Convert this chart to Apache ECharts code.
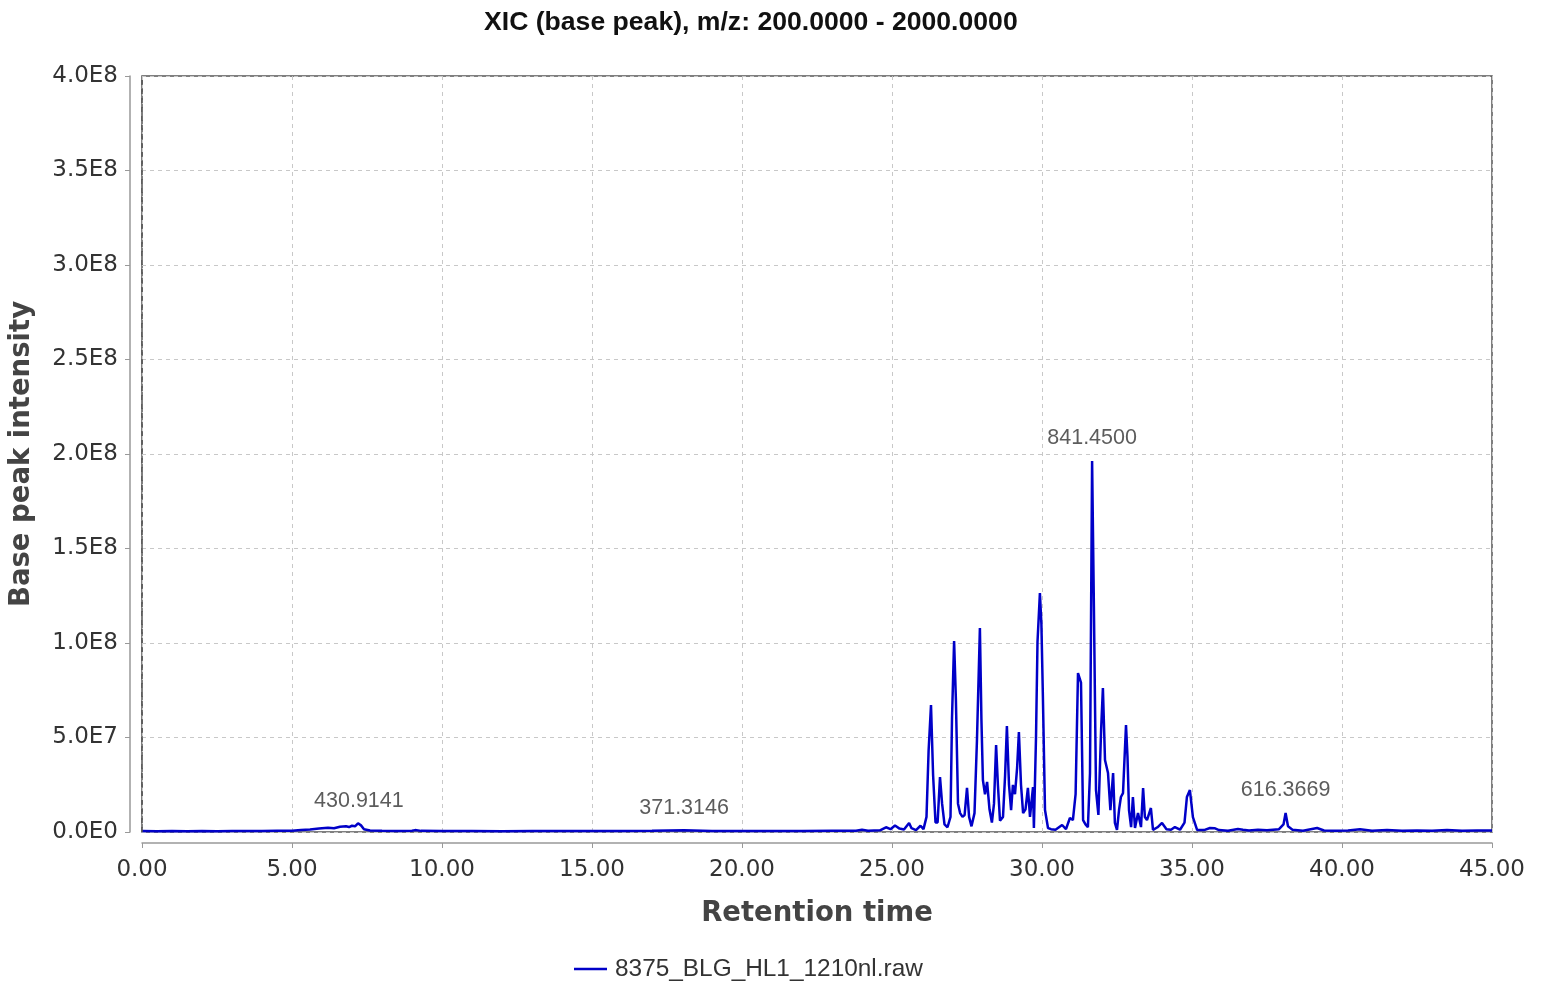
<!DOCTYPE html>
<html>
<head>
<meta charset="utf-8">
<title>XIC (base peak)</title>
<script src="https://cdn.jsdelivr.net/npm/echarts@6/dist/echarts.min.js"></script>
<style>
  html, body { margin: 0; padding: 0; background: #fff; }
  #chart { width: 1545px; height: 983px; }
</style>
</head>
<body>
<div id="chart"></div>
<script>
// retention time (min) and base peak intensity (x 1E6)
var retentionTime = [
  0.00, 0.50, 1.00, 1.50, 2.00, 2.50, 3.00, 3.50, 4.00, 4.50,
  5.00, 5.30, 5.60, 5.90, 6.20, 6.40, 6.60, 6.80, 6.90, 7.00,
  7.10, 7.20, 7.30, 7.40, 7.60, 8.00, 8.50, 9.00, 9.10, 9.30,
  10.0, 11.0, 12.0, 13.0, 14.0, 15.0, 16.0, 17.0, 18.07, 19.0,
  20.0, 21.0, 22.0, 23.0, 23.8, 24.0, 24.2, 24.6, 24.8, 24.95,
  25.1, 25.25, 25.4, 25.57, 25.65, 25.8, 25.95, 26.05, 26.15, 26.22,
  26.3, 26.37, 26.45, 26.52, 26.6, 26.67, 26.75, 26.85, 26.95, 27.0,
  27.07, 27.13, 27.2, 27.27, 27.35, 27.42, 27.5, 27.57, 27.65, 27.75,
  27.83, 27.93, 27.98, 28.03, 28.1, 28.17, 28.25, 28.33, 28.4, 28.47,
  28.53, 28.6, 28.7, 28.77, 28.83, 28.9, 28.97, 29.03, 29.1, 29.17,
  29.23, 29.3, 29.37, 29.45, 29.53, 29.6, 29.7, 29.73, 29.8, 29.85,
  29.93, 29.98, 30.03, 30.1, 30.2, 30.3, 30.45, 30.67, 30.8, 30.93,
  31.03, 31.12, 31.2, 31.3, 31.37, 31.45, 31.53, 31.6, 31.67, 31.73,
  31.8, 31.88, 31.97, 32.03, 32.1, 32.2, 32.28, 32.37, 32.43, 32.5,
  32.57, 32.63, 32.7, 32.8, 32.85, 32.9, 32.97, 33.03, 33.1, 33.2,
  33.3, 33.37, 33.43, 33.5, 33.63, 33.7, 33.85, 34.0, 34.15, 34.3,
  34.43, 34.6, 34.75, 34.83, 34.93, 35.03, 35.17, 35.4, 35.6, 35.75,
  35.9, 36.2, 36.53, 36.7, 36.9, 37.2, 37.5, 37.9, 38.05, 38.12,
  38.2, 38.35, 38.7, 39.17, 39.4, 39.8, 40.2, 40.6, 41.0, 41.5,
  42.0, 42.5, 43.0, 43.5, 44.0, 44.5, 45.0
];
var intensityE6 = [
  0.5, 0.4, 0.5, 0.4, 0.5, 0.4, 0.5, 0.5, 0.5, 0.6,
  0.7, 1.0, 1.3, 1.8, 2.3, 2.0, 2.8, 3.0, 2.6, 3.3,
  3.0, 4.6, 3.5, 1.5, 0.8, 0.6, 0.5, 0.7, 1.0, 0.6,
  0.5, 0.5, 0.4, 0.5, 0.5, 0.5, 0.5, 0.6, 0.9, 0.5,
  0.5, 0.5, 0.5, 0.6, 0.7, 1.2, 0.7, 0.9, 2.5, 1.5,
  3.4, 1.8, 1.3, 4.8, 2.0, 1.0, 3.3, 1.5, 8.0, 43.0,
  67.2, 30.0, 5.0, 5.0, 29.0, 15.0, 4.0, 2.5, 8.0, 60.0,
  101.0, 70.0, 15.0, 10.0, 8.0, 9.0, 23.3, 8.0, 3.0, 10.0,
  47.6, 107.9, 60.0, 27.5, 20.0, 26.5, 12.0, 5.0, 15.0, 46.0,
  25.0, 6.0, 8.0, 30.0, 56.1, 25.0, 11.6, 24.9, 20.0, 33.9,
  52.9, 25.0, 10.0, 12.0, 23.3, 8.0, 23.8, 2.1, 50.0, 100.5,
  126.4, 110.0, 71.4, 11.6, 2.1, 1.5, 1.2, 3.7, 1.5, 7.4,
  6.3, 20.0, 84.1, 79.0, 6.3, 4.0, 2.6, 31.2, 196.3, 119.0,
  22.2, 9.0, 54.0, 76.2, 38.1, 31.2, 11.6, 31.2, 4.8, 1.1,
  12.0, 18.5, 20.6, 56.6, 39.7, 11.6, 2.6, 18.5, 2.1, 10.1,
  2.6, 23.3, 7.9, 6.3, 12.7, 1.1, 2.5, 4.8, 1.5, 1.2,
  2.6, 1.2, 5.0, 18.5, 22.2, 7.9, 1.1, 1.0, 2.1, 2.0,
  1.0, 0.7, 1.6, 1.2, 0.8, 1.2, 0.9, 1.5, 4.0, 10.1,
  3.0, 1.2, 0.7, 2.1, 0.8, 0.6, 0.8, 1.4, 0.7, 1.0,
  0.6, 0.8, 0.7, 1.1, 0.7, 0.8, 0.8
];

// m/z annotations on the trace
var peakTimes = [7.23, 18.07, 31.67, 38.12];
var peakIntensityE6 = [4.6, 0.5, 196.3, 10.1];
var peakLabels = ['430.9141', '371.3146', '841.4500', '616.3669'];

var xTicks = [0, 5, 10, 15, 20, 25, 30, 35, 40, 45];
var yTicks = [0, 5e7, 1e8, 1.5e8, 2e8, 2.5e8, 3e8, 3.5e8, 4e8];

var seriesName = '8375_BLG_HL1_1210nl.raw';

var traceData = retentionTime.map(function(t, i) {
  return [t, intensityE6[i] * 1e6];
});
var peakData = peakTimes.map(function(t, i) {
  return { value: [t, peakIntensityE6[i] * 1e6], label: { formatter: peakLabels[i] } };
});

function sciLabel(v) {
  if (v === 0) return '0.0E0';
  var e = Math.floor(Math.log10(v) + 1e-9);
  return (v / Math.pow(10, e)).toFixed(1) + 'E' + e;
}

var chart = echarts.init(document.getElementById('chart'));
chart.setOption({
  animation: false,
  title: {
    text: 'XIC (base peak), m/z: 200.0000 - 2000.0000',
    left: 479,
    top: 4,
    textStyle: {
      fontFamily: 'Liberation Sans',
      fontWeight: 'bold',
      fontSize: 26.6,
      color: '#111'
    }
  },
  legend: {
    data: [seriesName],
    left: 569,
    top: 952,
    icon: 'rect',
    itemWidth: 33,
    itemHeight: 2.5,
    itemGap: 10,
    textStyle: {
      fontFamily: 'Liberation Sans',
      fontSize: 24.4,
      color: '#333',
      padding: [0, 0, 0, 3]
    }
  },
  grid: {
    left: 142,
    right: 53,
    top: 76,
    bottom: 151,
    show: true,
    borderColor: '#555',
    borderWidth: 1.5
  },
  xAxis: {
    type: 'value',
    min: xTicks[0],
    max: xTicks[xTicks.length - 1],
    interval: 5,
    offset: 11,
    name: 'Retention time',
    nameLocation: 'middle',
    nameGap: 57,
    nameTextStyle: {
      fontFamily: 'DejaVu Sans',
      fontWeight: 'bold',
      fontSize: 27.5,
      color: '#444'
    },
    axisLine: { show: true, onZero: false, lineStyle: { color: '#999', width: 1.5 } },
    axisTick: { show: true, length: 5, lineStyle: { color: '#999' } },
    axisLabel: {
      margin: 16,
      fontFamily: 'DejaVu Sans',
      fontSize: 23,
      color: '#333',
      formatter: function(v) { return v.toFixed(2); }
    },
    splitLine: { show: true, lineStyle: { color: '#c8c8c8', type: [4, 4], width: 1 } }
  },
  yAxis: {
    type: 'value',
    min: yTicks[0],
    max: yTicks[yTicks.length - 1],
    interval: 5e7,
    offset: 12,
    name: 'Base peak intensity',
    nameLocation: 'middle',
    nameGap: 94,
    nameTextStyle: {
      fontFamily: 'DejaVu Sans',
      fontWeight: 'bold',
      fontSize: 27.5,
      color: '#444'
    },
    axisLine: { show: true, onZero: false, lineStyle: { color: '#999', width: 1.5 } },
    axisTick: { show: true, length: 5, lineStyle: { color: '#999' } },
    axisLabel: {
      margin: 12,
      fontFamily: 'DejaVu Sans',
      fontSize: 23,
      color: '#333',
      lineHeight: 30,
      verticalAlign: 'middle',
      padding: [6, 0, 0, 0],
      formatter: sciLabel
    },
    splitLine: { show: true, lineStyle: { color: '#c8c8c8', type: [4, 4], width: 1 } }
  },
  series: [
    {
      name: seriesName,
      type: 'line',
      data: traceData,
      showSymbol: false,
      symbol: 'none',
      lineStyle: { color: '#0000c8', width: 2.5 },
      itemStyle: { color: '#0000c8' },
      markLine: {
        silent: true,
        symbol: 'none',
        label: { show: false },
        lineStyle: { color: '#555', type: [5, 4], width: 1.5 },
        data: [{ xAxis: 0 }]
      },
      z: 3
    },
    {
      name: 'peaks',
      type: 'scatter',
      data: peakData,
      symbolSize: 1,
      itemStyle: { color: 'rgba(0,0,0,0)' },
      label: {
        show: true,
        position: 'top',
        distance: 11,
        fontFamily: 'Liberation Sans',
        fontSize: 21.5,
        color: '#333'
      },
      z: 4
    }
  ]
});
</script>
</body>
</html>
